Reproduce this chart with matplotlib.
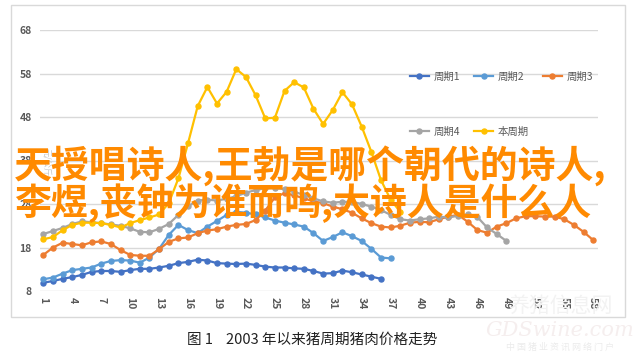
import matplotlib
matplotlib.use('Agg')
import matplotlib.pyplot as plt
from matplotlib.patches import Rectangle

plt.rcParams['font.family'] = ['Noto Sans CJK SC', 'DejaVu Sans']

# price series (yuan/kg), week index starts at 1
cycle1 = [9.9, 10.3, 10.8, 11.2, 11.7, 12.4, 12.6, 12.6, 12.4, 12.8, 13.1, 13.1, 13.4, 13.8, 14.4,
          14.7, 15.2, 15.0, 14.4, 14.3, 14.2, 14.3, 14.0, 13.6, 13.4, 13.4, 13.2, 13.1, 12.6, 12.0,
          12.1, 12.7, 12.3, 11.8, 11.3, 10.8]
cycle2 = [10.7, 11.1, 12.0, 12.8, 13.1, 13.4, 14.3, 14.9, 15.1, 15.0, 14.5, 15.7, 17.7, 20.9, 23.2,
          22.0, 21.3, 22.8, 24.1, 25.5, 26.2, 26.0, 25.6, 24.9, 24.2, 23.7, 23.3, 22.8, 21.3, 19.5,
          20.4, 21.5, 20.6, 19.5, 17.7, 15.7, 15.5]
cycle3 = [16.3, 18.0, 19.1, 18.8, 18.5, 19.2, 19.4, 18.8, 17.4, 16.3, 16.1, 16.1, 17.6, 19.3, 20.1,
          20.3, 21.3, 21.9, 22.2, 22.8, 23.2, 23.4, 24.3, 26.5, 29.5, 30.5, 30.0, 29.3, 28.6, 28.2,
          27.4, 26.8, 26.0, 24.7, 23.6, 22.8, 22.6, 23.0, 23.7, 23.9, 23.8, 24.5, 25.1, 25.5, 23.9,
          22.0, 21.4, 22.8, 23.6, 24.7, 25.2, 25.2, 25.1, 25.1, 24.5, 23.2, 21.6, 19.7]
cycle4 = [21.1, 21.8, 22.5, 23.4, 24.0, 23.8, 23.6, 23.3, 23.0, 22.4, 21.6, 21.5, 22.3, 23.4, 25.5,
          27.5, 28.8, 29.0, 28.8, 29.2, 29.8, 30.6, 31.2, 31.6, 31.7, 31.4, 30.8, 30.1, 29.3, 28.6,
          28.3, 28.5, 28.5, 28.0, 27.4, 26.6, 25.5, 24.5, 24.2, 24.5, 24.7, 25.1, 24.9, 25.3, 25.6,
          25.0, 22.6, 21.1, 19.5]
current = [19.9, 20.4, 22.0, 23.2, 23.7, 23.7, 23.6, 23.2, 22.6, 23.6, 24.3, 24.9, 25.6, 28.2, 33.9,
           42.0, 50.5, 54.9, 51.1, 53.8, 59.0, 57.2, 53.0, 47.7, 47.8, 54.0, 56.0, 54.8, 49.9, 46.4,
           49.6, 53.7, 50.9, 45.8, 40.0, 33.5, 29.0, 26.2]

names = ['周期1', '周期2', '周期3', '周期4', '本周期']
colors = ['#4472C4', '#5B9BD5', '#ED7D31', '#A5A5A5', '#FFC000']
yticks = [8, 18, 28, 38, 48, 58, 68]
xticks = list(range(1, 59, 3))

W, H = 634, 358
fig = plt.figure(figsize=(W / 100, H / 100), dpi=100)

# chart frame (behind the axes)
fig.patches.append(Rectangle((11 / W, 1 - 317 / H), 614 / W, 312 / H, transform=fig.transFigure,
                             facecolor='white', edgecolor='#D9D9D9', lw=1, zorder=-5))

ax = fig.add_axes([40 / W, 1 - 291 / H, 558 / W, 261 / H])
ax.set_facecolor('none')

series = [cycle1, cycle2, cycle3, cycle4, current]
handles = []
for vals, name, c in zip(series, names, colors):
    xs = list(range(1, len(vals) + 1))
    h, = ax.plot(xs, vals, color=c, lw=1.6, marker='o', ms=3.6, label=name, clip_on=False, zorder=3)
    handles.append(h)

ax.set_ylim(8, 68)
ax.set_xlim(0.65, 58.5)
ax.set_yticks(yticks)
ax.set_yticklabels([str(v) for v in yticks], fontsize=7.5, color='#595959', fontweight='bold')
ax.set_xticks(xticks)
ax.set_xticklabels([str(v) for v in xticks], fontsize=7.5, color='#595959', rotation=-90,
                   fontweight='bold')
ax.tick_params(axis='both', length=0)
ax.tick_params(axis='y', pad=6)
ax.tick_params(axis='x', pad=4)
ax.grid(axis='y', color='#D9D9D9', lw=1)
ax.set_axisbelow(True)
for s in ax.spines.values():
    s.set_visible(False)

# legend, two rows on the right (column-major order)
order = [0, 3, 1, 4, 2]
leg = ax.legend([handles[i] for i in order], [names[i] for i in order], ncol=3,
                loc='upper left', bbox_to_anchor=(410 / W, 1 - 72 / H), bbox_transform=fig.transFigure,
                frameon=False, fontsize=7.5, handlelength=1.8, handletextpad=0.5,
                columnspacing=1.3, labelspacing=4.3, borderaxespad=0, borderpad=0)
for t in leg.get_texts():
    t.set_color('#595959')

# faint axis title
fig.text(47 / W, 1 - 162 / H, '元/公斤', rotation=-90, fontsize=6, color='#C8C8C8',
         ha='center', va='center')

# caption
fig.text(312 / W, 1 - 340 / H, '图 1    2003 年以来猪周期猪肉价格走势', fontsize=10.5,
         color='#222222', ha='center', va='center')

# site watermark
fig.text(560 / W, 1 - 306 / H, '养猪信息网', fontsize=15, color='#F2F2F2', ha='center', va='center')
fig.text(560 / W, 1 - 331 / H, 'GDSwine.com', fontsize=15, color='#F5EEEE', ha='center', va='center',
         family='DejaVu Serif', style='italic')
fig.text(560 / W, 1 - 347 / H, '中 国 猪 业 资 讯 网 络 门 户', fontsize=6.5, color='#EBEBEB',
         ha='center', va='center')

# overlay headline text
fig.text(14 / W, 1 - 166 / H, '天授唱诗人,王勃是哪个朝代的诗人,', fontsize=27.3, color='#FF8A00',
         ha='left', va='center', fontweight='bold')
fig.text(14 / W, 1 - 203 / H, '李煜,丧钟为谁而鸣,大诗人是什么人', fontsize=26.6, color='#FF8A00',
         ha='left', va='center', fontweight='bold')

fig.savefig('out.png', dpi=100)
